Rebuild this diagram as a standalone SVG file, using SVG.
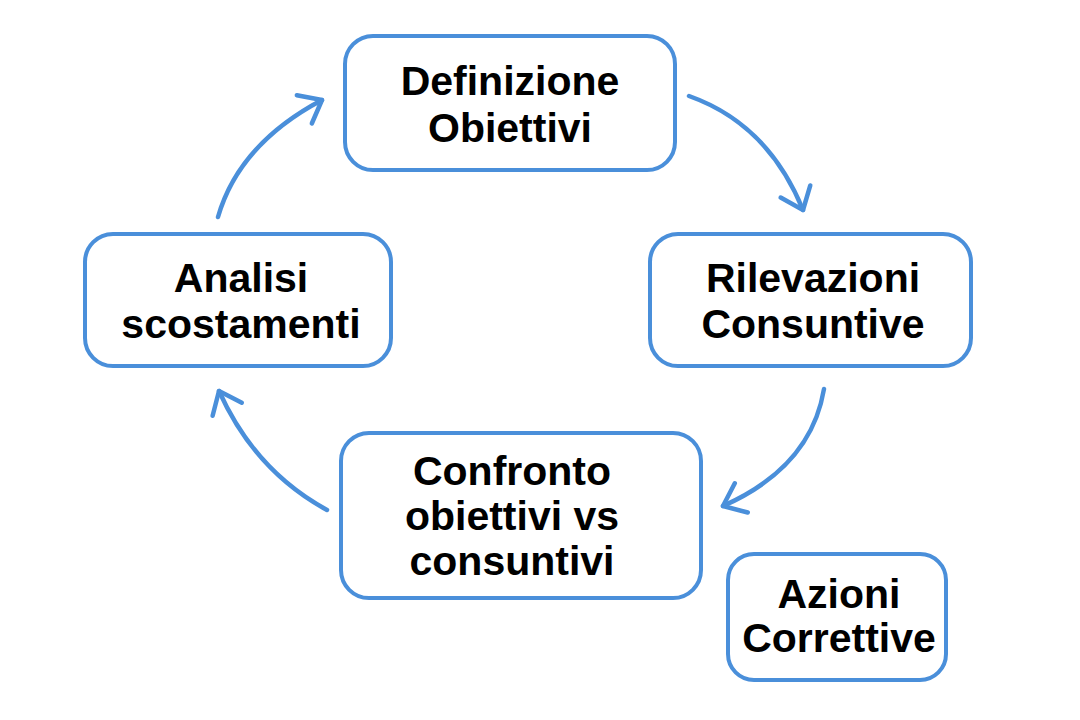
<svg xmlns="http://www.w3.org/2000/svg" width="1080" height="720" viewBox="0 0 1080 720">
  <style>
    .box { fill: #ffffff; stroke: #4A8FDA; stroke-width: 4; }
    .lbl { font-family: "Liberation Sans", Arial, sans-serif; font-weight: 700; font-size: 41px; fill: #000000; text-anchor: middle; }
    .conn { fill: none; stroke: #4A8FDA; stroke-width: 4.5; stroke-linecap: round; marker-end: url(#ah); }
  </style>
  <defs>
    <marker id="ah" markerUnits="userSpaceOnUse" markerWidth="40" markerHeight="40" refX="0" refY="0" orient="auto" overflow="visible">
      <path d="M-20,-16 L0,0 L-20,16" fill="none" stroke="#4A8FDA" stroke-width="4.5" stroke-linecap="round" stroke-linejoin="round"/>
    </marker>
  </defs>
  <rect width="1080" height="720" fill="#ffffff"/>

  <g id="connectors">
    <path class="conn" d="M218,217 Q239,144 322,100"/>
    <path class="conn" d="M689,96 Q768,124 803,210"/>
    <path class="conn" d="M824,389 Q811,467 723,506"/>
    <path class="conn" d="M327,510 Q255,471 219,391"/>
  </g>

  <g id="node-definizione">
    <rect class="box" x="345" y="36" width="330" height="134" rx="28"/>
    <text class="lbl" x="510" y="95">Definizione</text>
    <text class="lbl" x="510" y="142">Obiettivi</text>
  </g>

  <g id="node-rilevazioni">
    <rect class="box" x="650" y="234" width="321" height="132" rx="28"/>
    <text class="lbl" x="813" y="292">Rilevazioni</text>
    <text class="lbl" x="813" y="338">Consuntive</text>
  </g>

  <g id="node-analisi">
    <rect class="box" x="85" y="234" width="306" height="132" rx="28"/>
    <text class="lbl" x="241" y="292">Analisi</text>
    <text class="lbl" x="241" y="338">scostamenti</text>
  </g>

  <g id="node-confronto">
    <rect class="box" x="341" y="433" width="360" height="165" rx="28"/>
    <text class="lbl" x="512" y="485">Confronto</text>
    <text class="lbl" x="512" y="530">obiettivi vs</text>
    <text class="lbl" x="512" y="575">consuntivi</text>
  </g>

  <g id="node-azioni">
    <rect class="box" x="728" y="554" width="218" height="126" rx="26"/>
    <text class="lbl" x="839" y="608">Azioni</text>
    <text class="lbl" x="839" y="652">Correttive</text>
  </g>
</svg>
